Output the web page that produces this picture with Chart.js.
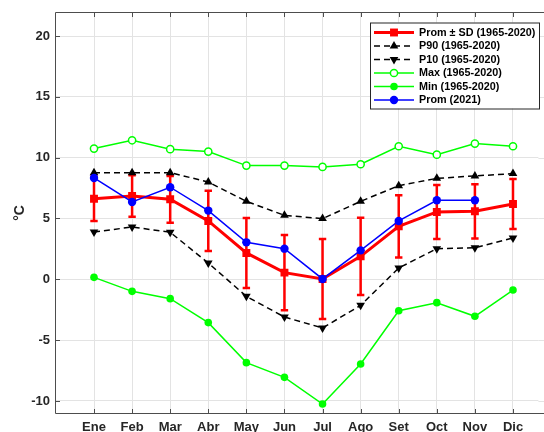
<!DOCTYPE html>
<html>
<head>
<meta charset="utf-8">
<script src="https://cdn.jsdelivr.net/npm/chart.js@4.4.1/dist/chart.umd.min.js"></script>
<style>
html,body{margin:0;padding:0;background:#fff;}
canvas{display:block;}
</style>
</head>
<body>
<canvas id="c" width="544" height="432" style="width:544px;height:432px"></canvas>
<script>
const months = ['Ene','Feb','Mar','Abr','May','Jun','Jul','Ago','Set','Oct','Nov','Dic'];
const promMean = [6.63,6.85,6.58,4.8,2.17,0.55,0.03,1.89,4.36,5.54,5.59,6.19];
const promSD = [1.83,1.7,1.92,2.48,2.88,3.1,3.29,3.18,2.56,2.22,2.23,2.05];
const p90 = [8.77,8.77,8.77,8.0,6.41,5.26,4.99,6.41,7.7,8.3,8.5,8.69];
const p10 = [3.89,4.3,3.87,1.34,-1.4,-3.1,-4.0,-2.14,0.93,2.52,2.6,3.4];
const maxT = [10.75,11.43,10.7,10.5,9.35,9.35,9.24,9.46,10.94,10.25,11.16,10.94];
const minT = [0.16,-0.99,-1.59,-3.56,-6.85,-8.06,-10.25,-6.96,-2.58,-1.92,-3.04,-0.88];
const prom2021 = [8.33,6.36,7.57,5.65,3.04,2.52,0.03,2.38,4.8,6.5,6.5,null];
const yTicks = [-10,-5,0,5,10,15,20];
const legendLabels = ['Prom \u00B1 SD (1965-2020)','P90 (1965-2020)','P10 (1965-2020)','Max (1965-2020)','Min (1965-2020)','Prom (2021)'];

const pts = arr => arr.map((v,i) => ({x:i+1, y:v}));
const FONT = '"Liberation Sans", Arial, sans-serif';
const GRID = '#e3e3e3';

const datasets = [
  {label:legendLabels[0], data:pts(promMean), borderColor:'#ff0000', backgroundColor:'#ff0000', borderWidth:3,
   pointStyle:'rect', pointRadius:5.6, pointBorderWidth:0, order:5, errorbars:true},
  {label:legendLabels[1], data:pts(p90), borderColor:'#000', backgroundColor:'#000', borderWidth:1.5, borderDash:[6,4],
   pointStyle:'triangle', pointRadius:5, pointBorderWidth:0, order:4},
  {label:legendLabels[2], data:pts(p10), borderColor:'#000', backgroundColor:'#000', borderWidth:1.5, borderDash:[6,4],
   pointStyle:'triangle', pointRotation:180, pointRadius:5, pointBorderWidth:0, order:3},
  {label:legendLabels[3], data:pts(maxT), borderColor:'#00ff00', backgroundColor:'#ffffff', borderWidth:1.5,
   pointStyle:'circle', pointRadius:3.6, pointBorderWidth:1.5, order:2},
  {label:legendLabels[4], data:pts(minT), borderColor:'#00ff00', backgroundColor:'#00ff00', borderWidth:1.5,
   pointStyle:'circle', pointRadius:3.8, pointBorderWidth:0, order:1},
  {label:legendLabels[5], data:pts(prom2021), borderColor:'#0000ff', backgroundColor:'#0000ff', borderWidth:1.5,
   pointStyle:'circle', pointRadius:4.2, pointBorderWidth:0, order:0}
];

const errorBarPlugin = {
  id:'errorbars',
  beforeDatasetsDraw(chart) {
    // extend horizontal grid lines to the canvas edge
    const {ctx, chartArea:a, scales:{y}} = chart;
    ctx.save();
    ctx.strokeStyle = GRID;
    ctx.lineWidth = 1;
    yTicks.forEach(v => {
      const py = Math.round(y.getPixelForValue(v))+0.5;
      ctx.beginPath(); ctx.moveTo(a.right, py); ctx.lineTo(chart.width, py); ctx.stroke();
    });
    ctx.restore();
  },
  afterDatasetDraw(chart, args) {
    const ds = chart.data.datasets[args.index];
    if (!ds.errorbars) return;
    const {ctx, scales:{x, y}} = chart;
    ctx.save();
    ctx.strokeStyle = '#ff0000';
    ctx.lineWidth = 2.5;
    ctx.setLineDash([]);
    promMean.forEach((m,i) => {
      const px = x.getPixelForValue(i+1);
      const yt = y.getPixelForValue(m + promSD[i]);
      const yb = y.getPixelForValue(m - promSD[i]);
      ctx.beginPath();
      ctx.moveTo(px, yt); ctx.lineTo(px, yb);
      ctx.moveTo(px-3.7, yt); ctx.lineTo(px+3.7, yt);
      ctx.moveTo(px-3.7, yb); ctx.lineTo(px+3.7, yb);
      ctx.stroke();
    });
    ctx.restore();
  }
};

const boxLegendPlugin = {
  id:'boxlegend',
  afterDraw(chart) {
    const {ctx, chartArea:a, scales:{x, y}} = chart;
    ctx.save();
    ctx.strokeStyle = '#4d4d4d';
    ctx.lineWidth = 1;
    ctx.setLineDash([]);
    const L = Math.round(a.left)+0.5, T = Math.floor(a.top)+0.5, B = Math.round(a.bottom)+0.5, R = chart.width;
    ctx.beginPath();
    ctx.moveTo(R, T); ctx.lineTo(L, T); ctx.lineTo(L, B); ctx.lineTo(R, B);
    months.forEach((m,i) => {
      const px = Math.round(x.getPixelForValue(i+1))+0.5;
      ctx.moveTo(px, B); ctx.lineTo(px, B-4.5);
      ctx.moveTo(px, T); ctx.lineTo(px, T+4.5);
    });
    yTicks.forEach(v => {
      const py = Math.round(y.getPixelForValue(v))+0.5;
      ctx.moveTo(L, py); ctx.lineTo(L+4.5, py);
    });
    ctx.stroke();
    const lx = 370, ly = 22.5, lw = 169, lh = 86;
    ctx.fillStyle = '#fff';
    ctx.fillRect(lx, ly, lw, lh);
    ctx.strokeStyle = '#262626';
    ctx.strokeRect(lx+0.5, ly+0.5, lw, lh);
    const rows = [32.5, 46, 59.5, 73, 86.5, 100];
    chart.data.datasets.forEach((ds, i) => {
      const ry = rows[i];
      ctx.save();
      ctx.strokeStyle = ds.borderColor;
      ctx.lineWidth = ds.borderWidth;
      ctx.setLineDash(ds.borderDash || []);
      ctx.beginPath(); ctx.moveTo(374, ry); ctx.lineTo(414, ry); ctx.stroke();
      ctx.setLineDash([]);
      ctx.fillStyle = ds.backgroundColor;
      ctx.strokeStyle = ds.borderColor;
      ctx.lineWidth = ds.pointBorderWidth;
      Chart.helpers.drawPoint(ctx, {pointStyle: ds.pointStyle, radius: ds.pointRadius, rotation: ds.pointRotation || 0, borderWidth: ds.pointBorderWidth}, 394, ry);
      ctx.restore();
      ctx.fillStyle = '#000';
      ctx.font = 'bold 10.8px ' + FONT;
      ctx.textBaseline = 'middle';
      ctx.textAlign = 'left';
      ctx.fillText(ds.label, 419, ry + 0.5);
    });
    ctx.restore();
  }
};

new Chart(document.getElementById('c'), {
  type:'line',
  data:{datasets},
  plugins:[errorBarPlugin, boxLegendPlugin],
  options:{
    responsive:false,
    animation:false,
    layout:{padding:{top:12, right:0, left:0, bottom:0}},
    plugins:{legend:{display:false}, tooltip:{enabled:false}},
    elements:{line:{tension:0}},
    scales:{
      x:{
        type:'linear', min:-0.024, max:12.667,
        afterBuildTicks: s => { s.ticks = months.map((m,i)=>({value:i+1})); },
        afterFit: s => { s.height = 19; },
        ticks:{callback: v => months[v-1] || '', color:'#262626', font:{family:FONT, size:13, weight:'bold'}, padding:7, maxRotation:0, autoSkip:false},
        grid:{color:GRID, drawTicks:false},
        border:{display:false}
      },
      y:{
        type:'linear', min:-10.99, max:21.91,
        afterBuildTicks: s => { s.ticks = yTicks.map(v=>({value:v})); },
        afterFit: s => { s.width = 55; },
        ticks:{color:'#262626', font:{family:FONT, size:13, weight:'bold'}, padding:5},
        grid:{color:GRID, drawTicks:false},
        border:{display:false},
        title:{display:true, text:'\u00B0C', color:'#262626', font:{family:FONT, size:14, weight:'bold'}, padding:{top:12, bottom:0}}
      }
    }
  }
});
</script>
</body>
</html>
